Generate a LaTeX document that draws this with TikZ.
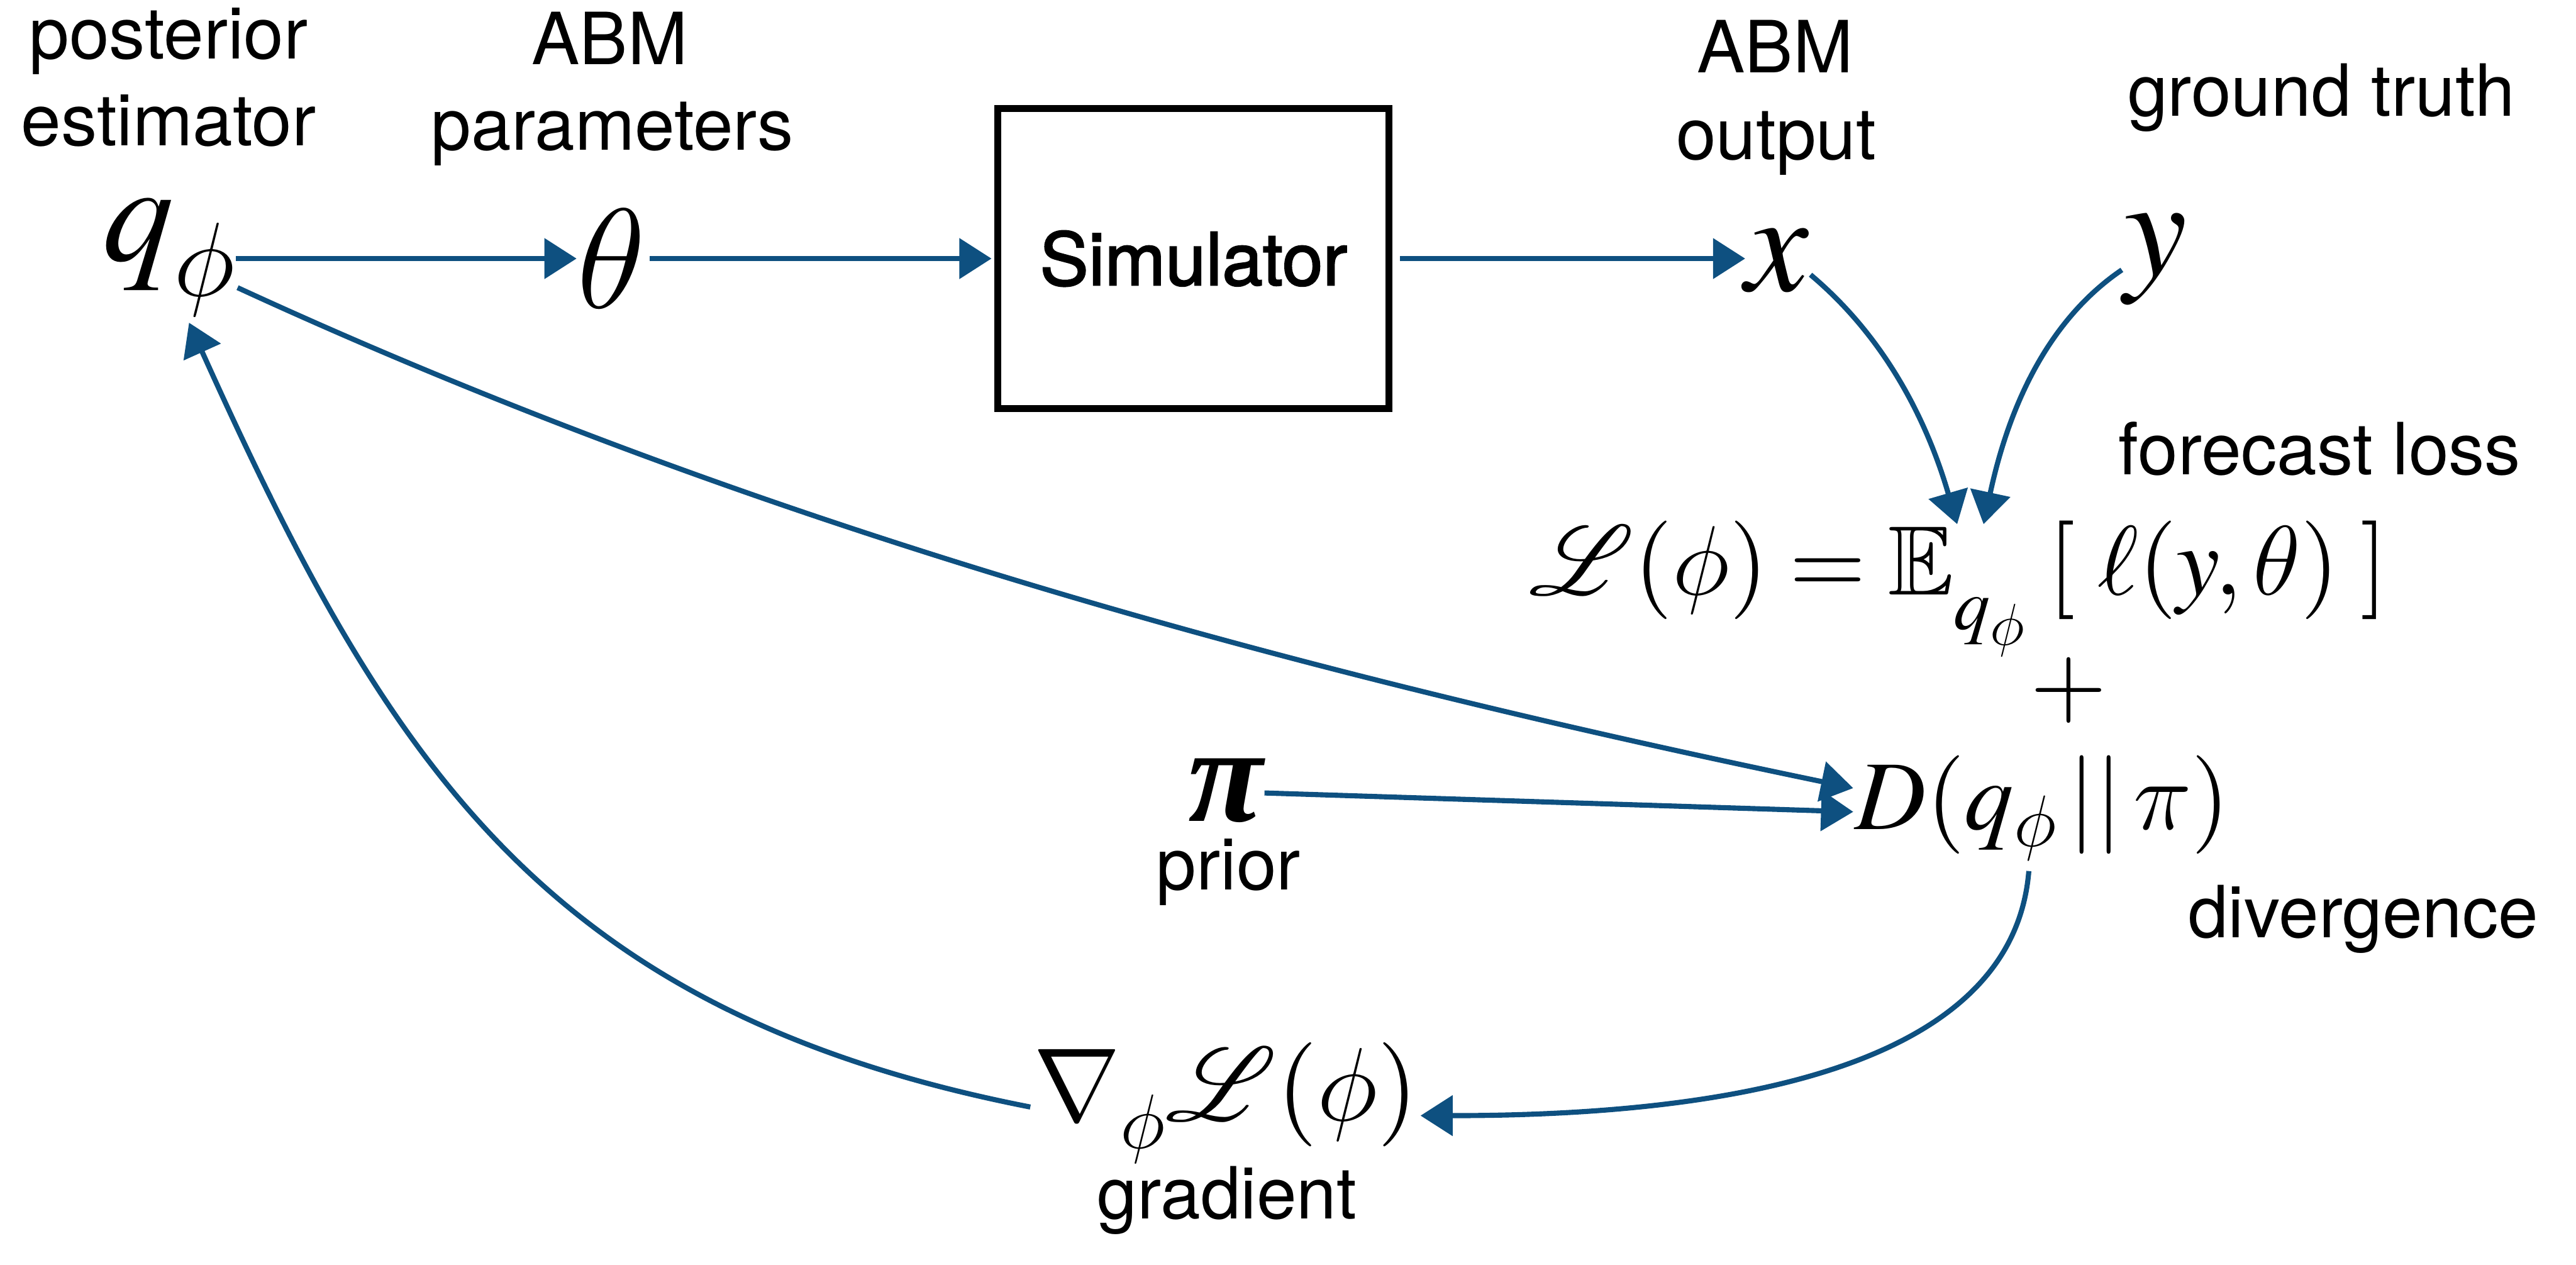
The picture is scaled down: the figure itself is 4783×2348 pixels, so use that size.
\documentclass[tikz,border=0pt]{standalone}
\usepackage{mathptmx}
\usepackage{amsmath,amssymb}
\usepackage{mathrsfs}
\DeclareFontFamily{U}{rsfs}{\skewchar\font127 }
\DeclareFontShape{U}{rsfs}{m}{n}{<-6>rsfs5<6-8>rsfs7<8->rsfs10}{}
\DeclareFontFamily{OML}{mycmm}{\skewchar\font127 }
\DeclareFontShape{OML}{mycmm}{m}{it}{<-6>cmmi5<6-8>cmmi7<8-11>cmmi10<11->cmmi12}{}
\DeclareFontFamily{OMS}{mycmsy}{\skewchar\font48 }
\DeclareFontShape{OMS}{mycmsy}{m}{n}{<-6>cmsy5<6-8>cmsy7<8->cmsy10}{}
\DeclareSymbolFont{cmletters}{OML}{mycmm}{m}{it}
\DeclareSymbolFont{cmsymbols}{OMS}{mycmsy}{m}{n}
\DeclareMathSymbol{\phi}{\mathord}{cmletters}{"1E}
\DeclareMathSymbol{\theta}{\mathord}{cmletters}{"12}
\DeclareMathSymbol{\pi}{\mathord}{cmletters}{"19}
\DeclareMathSymbol{\nabla}{\mathord}{cmsymbols}{"72}
\usepackage[no-math]{fontspec}
\setmainfont{TeX Gyre Heros}
\newfontfamily\simfont[FakeBold=2]{TeX Gyre Heros}
\newfontfamily\tmsfont{Liberation Serif}
\usetikzlibrary{arrows.meta,calc}
\definecolor{arrblue}{RGB}{14,80,128}
\begin{document}
\begin{tikzpicture}[x=0.01cm,y=-0.01cm,
  lbl/.style={font=\fontsize{38}{44}\selectfont, inner sep=0, anchor=base},
  bigm/.style={font=\fontsize{75}{80}\selectfont, inner sep=0},
  fm/.style={font=\fontsize{52}{58}\selectfont, inner sep=0},
  arr/.style={draw=arrblue, line width=2.7pt, -{Triangle[length=17pt,width=21pt]}}]
\useasboundingbox (0,0) rectangle (4783,2348);
% labels
\node[lbl] (lpost) at (313,109) {posterior};
\node[lbl] (lest) at (313,270) {estimator};
\node[lbl] (labmA) at (1132,120) {ABM};
\node[lbl] (lpar) at (1137,279) {parameters};
\node[lbl] (labmB) at (3296,135) {ABM};
\node[lbl] (lout) at (3298,296) {output};
\node[lbl] (lgt) at (4310,215) {ground truth};
\node[lbl] (lfl) at (4307,881) {forecast loss};
\node[lbl] (ldiv) at (4388,1740) {divergence};
\node[lbl] (lprior) at (2281,1652) {prior};
\node[lbl] (lgrad) at (2278,2263) {gradient};
% math nodes
\node[bigm, anchor=base west] (qn) at (190,484) {$q_{\raisebox{-0.1em}{$\scriptstyle\phi$}}$};
\node[bigm] (th) at (1135,480) {$\theta$};
\node[draw, line width=3.7pt, minimum width=7.26cm, minimum height=5.57cm,
      font=\simfont\fontsize{38.5}{44}\selectfont] (sim) at (2216,480) {Simulator};
\node[bigm, anchor=base] (xn) at (3300,540) {$x$};
\node[bigm, anchor=base] (yn) at (4003,512) {$y$};
\node[fm, anchor=base west] (L) at (2839,1104) {$\mathscr{L}(\phi)=\mathbb{E}_{\raisebox{-0.2em}{$\scriptstyle q_\phi$}}\;[\;\ell(y,\theta)\;]$};
\node[fm] (plus) at (3841,1282) {$+$};
\node[fm, anchor=base west] (D) at (3444,1540) {$D(q_\phi\,||\,\pi)$};
\node[font=\tmsfont\bfseries\itshape\fontsize{72}{80}\selectfont, inner sep=0] (pi) at (2275,1468) {π};
\node[font=\fontsize{55}{60}\selectfont, inner sep=0, anchor=base west] (grad) at (1918,2080) {$\nabla_{\raisebox{-0.12em}{$\scriptstyle\phi$}}\mathscr{L}(\phi)$};
% connectors
\draw[arr] (qn.base east |- th.west) -- (th.west);
\draw[arr, shorten <=2pt, shorten >=1.5pt] (th.east) -- (sim.west);
\draw[arr, shorten <=4pt] (sim.east) -- (xn.west |- sim.east);
\draw[arr] ($(qn.base east)+(3,50)$) .. controls (1431,990) and (2437,1255) .. ($(D.base west)+(-3,-77)$);
\draw[arr] ($(pi.east)+(3,4)$) -- ($(D.base west)+(-3,-33)$);
\draw[arr] ($(xn.base east)+(2,-30)$) .. controls (3501,627) and (3578,781) .. ($(L.base west)+(795,-131)$);
\draw[arr] ($(yn.base west)+(-4,-11)$) .. controls (3791,602) and (3725,777) .. ($(L.base west)+(844,-131)$);
\draw[arr] ($(D.base west)+(323,77)$) .. controls (3740,1950) and (3300,2071) .. ($(grad.base east)+(4,-9)$);
\draw[arr] ($(grad.base west)+(-5,-25)$) .. controls (1013,1879) and (720,1418) .. ($(qn.base west)+(161,115)$);
\end{tikzpicture}
\end{document}
